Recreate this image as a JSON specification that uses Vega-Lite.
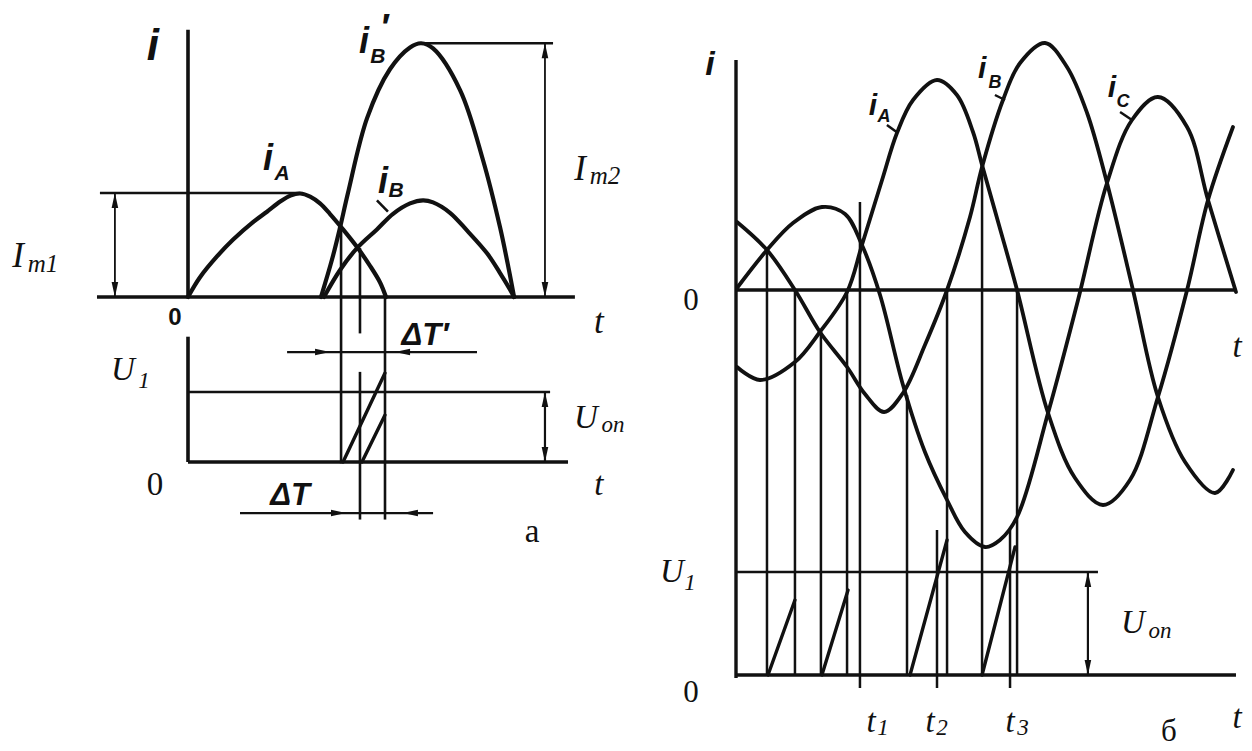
{
  "$schema": "https://vega.github.io/schema/vega-lite/v6.json",
  "width": 1252,
  "height": 751,
  "autosize": {"type": "none"},
  "padding": 0,
  "background": "#ffffff",
  "config": {"view": {"stroke": null}},
  "datasets": {
    "a_curves": [
      {"c": "iA", "t": 0, "i": 0}, {"c": "iA", "t": 0.61, "i": 0.19}, {"c": "iA", "t": 1.47, "i": 0.39},
      {"c": "iA", "t": 2.28, "i": 0.55}, {"c": "iA", "t": 3.3, "i": 0.72}, {"c": "iA", "t": 4.01, "i": 0.82},
      {"c": "iA", "t": 4.7, "i": 0.92}, {"c": "iA", "t": 5.2, "i": 0.975}, {"c": "iA", "t": 5.7, "i": 0.995},
      {"c": "iA", "t": 6.2, "i": 0.965}, {"c": "iA", "t": 6.7, "i": 0.9}, {"c": "iA", "t": 7.2, "i": 0.8},
      {"c": "iA", "t": 7.87, "i": 0.65}, {"c": "iA", "t": 8.58, "i": 0.48}, {"c": "iA", "t": 9.24, "i": 0.3},
      {"c": "iA", "t": 9.75, "i": 0.14}, {"c": "iA", "t": 10.05, "i": 0},
      {"c": "iB'", "t": 6.75, "i": 0}, {"c": "iB'", "t": 7.31, "i": 0.36}, {"c": "iB'", "t": 7.72, "i": 0.67},
      {"c": "iB'", "t": 8.12, "i": 1.0}, {"c": "iB'", "t": 9.09, "i": 1.72},
      {"c": "iB'", "t": 10.25, "i": 2.19}, {"c": "iB'", "t": 11.27, "i": 2.4}, {"c": "iB'", "t": 11.83, "i": 2.44},
      {"c": "iB'", "t": 12.44, "i": 2.39}, {"c": "iB'", "t": 13.81, "i": 1.99}, {"c": "iB'", "t": 14.97, "i": 1.32},
      {"c": "iB'", "t": 15.84, "i": 0.67}, {"c": "iB'", "t": 16.29, "i": 0.26}, {"c": "iB'", "t": 16.55, "i": 0},
      {"c": "iB", "t": 6.9, "i": 0}, {"c": "iB", "t": 7.72, "i": 0.26}, {"c": "iB", "t": 8.58, "i": 0.47},
      {"c": "iB", "t": 9.59, "i": 0.65}, {"c": "iB", "t": 10.41, "i": 0.8}, {"c": "iB", "t": 11.27, "i": 0.9},
      {"c": "iB", "t": 11.93, "i": 0.93}, {"c": "iB", "t": 12.44, "i": 0.91}, {"c": "iB", "t": 13.3, "i": 0.81},
      {"c": "iB", "t": 14.16, "i": 0.64}, {"c": "iB", "t": 15.18, "i": 0.42}, {"c": "iB", "t": 15.84, "i": 0.23},
      {"c": "iB", "t": 16.35, "i": 0.07}, {"c": "iB", "t": 16.55, "i": 0}
    ],
    "a_axes": [
      {"t": 0, "i": 0, "t2": 0, "i2": 2.57},
      {"t": -4.62, "i": 0, "t2": 19.64, "i2": 0}
    ],
    "a_rules": [
      {"t": -4.47, "i": 1, "t2": 5.7, "i2": 1},
      {"t": 11.83, "i": 2.44, "t2": 18.53, "i2": 2.44},
      {"t": 7.77, "i": 0.66, "t2": 7.77, "i2": -1.6},
      {"t": 8.73, "i": 0.47, "t2": 8.73, "i2": -0.35},
      {"t": 8.73, "i": -0.72, "t2": 8.73, "i2": -2.14},
      {"t": 10.0, "i": 0, "t2": 10.0, "i2": -2.14},
      {"t": 9.59, "i": 0.93, "t2": 10.15, "i2": 0.82}
    ],
    "a_arrows": [
      {"t": -3.71, "i": 0, "t2": -3.71, "i2": 1},
      {"t": 18.12, "i": 0, "t2": 18.12, "i2": 2.44}
    ],
    "a_heads": [
      {"t": -3.71, "i": 1, "dir": "up"}, {"t": -3.71, "i": 0, "dir": "down"},
      {"t": 18.12, "i": 2.44, "dir": "up"}, {"t": 18.12, "i": 0, "dir": "down"}
    ],
    "a_lbl_big": [{"t": -1.78, "i": 2.28, "s": "i"}],
    "a_lbl_i": [
      {"t": 4.06, "i": 1.22, "s": "i"},
      {"t": 8.93, "i": 2.35, "s": "i"},
      {"t": 9.95, "i": 2.47, "s": "′"},
      {"t": 9.9, "i": 1.0, "s": "i"}
    ],
    "a_lbl_sub": [
      {"t": 4.77, "i": 1.125, "s": "A"},
      {"t": 9.64, "i": 2.25, "s": "B"},
      {"t": 10.56, "i": 0.96, "s": "B"}
    ],
    "a_lbl_zero": [{"t": -0.66, "i": -0.27, "s": "0"}],
    "a_ser": [
      {"t": -8.63, "i": 0.29, "s": "I"},
      {"t": 19.9, "i": 1.125, "s": "I"},
      {"t": 20.86, "i": -0.346, "s": "t"}
    ],
    "a_ser_sub": [
      {"t": -7.36, "i": 0.24, "s": "m1"},
      {"t": 21.17, "i": 1.087, "s": "m2"}
    ],
    "a2_axes": [
      {"t": 0, "u": 0, "t2": 0, "u2": 1.79},
      {"t": 0, "u": 0, "t2": 19.29, "u2": 0}
    ],
    "a2_rules": [
      {"t": 0, "u": 1, "t2": 18.38, "u2": 1}
    ],
    "a2_arrows": [
      {"t": 18.12, "u": 0, "t2": 18.12, "u2": 1},
      {"t": 5.03, "u": 1.571, "t2": 14.67, "u2": 1.571},
      {"t": 2.64, "u": -0.729, "t2": 12.44, "u2": -0.729}
    ],
    "a2_heads": [
      {"t": 18.12, "u": 1, "dir": "up"}, {"t": 18.12, "u": 0, "dir": "down"},
      {"t": 7.21, "u": 1.571, "dir": "right"}, {"t": 10.51, "u": 1.571, "dir": "left"},
      {"t": 8.02, "u": -0.729, "dir": "right"}, {"t": 10.91, "u": -0.729, "dir": "left"}
    ],
    "a2_ramps": [
      {"r": "r1", "t": 7.87, "u": 0}, {"r": "r1", "t": 10.0, "u": 1.27},
      {"r": "r2", "t": 8.83, "u": 0}, {"r": "r2", "t": 10.0, "u": 0.67}
    ],
    "a2_dt": [
      {"t": 12.03, "u": 1.671, "s": "ΔT′"},
      {"t": 5.18, "u": -0.614, "s": "ΔT"}
    ],
    "a2_ser": [
      {"t": -3.3, "u": 1.171, "s": "U"},
      {"t": 20.86, "u": -0.471, "s": "t"},
      {"t": 20.2, "u": 0.486, "s": "U"}
    ],
    "a2_ser_sub": [
      {"t": -2.23, "u": 1.057, "s": "1"},
      {"t": 21.57, "u": 0.429, "s": "on"}
    ],
    "a2_roman": [
      {"t": -1.68, "u": -0.471, "s": "0"},
      {"t": 17.46, "u": -1.143, "s": "а"}
    ],
    "b_curves": [
      {"c": "iA", "t": 0.06, "i": -0.77}, {"c": "iA", "t": 1.43, "i": -0.9}, {"c": "iA", "t": 3.52, "i": -0.72},
      {"c": "iA", "t": 5.01, "i": -0.42}, {"c": "iA", "t": 6.63, "i": -0.02}, {"c": "iA", "t": 7.52, "i": 0.45},
      {"c": "iA", "t": 8.72, "i": 1.1}, {"c": "iA", "t": 9.61, "i": 1.57}, {"c": "iA", "t": 10.57, "i": 1.9},
      {"c": "iA", "t": 12.0, "i": 2.1}, {"c": "iA", "t": 13.19, "i": 1.95}, {"c": "iA", "t": 14.15, "i": 1.58},
      {"c": "iA", "t": 14.69, "i": 1.25}, {"c": "iA", "t": 15.7, "i": 0.65}, {"c": "iA", "t": 16.78, "i": 0},
      {"c": "iA", "t": 18.63, "i": -1.23},
      {"c": "iA", "t": 20.24, "i": -1.88}, {"c": "iA", "t": 21.91, "i": -2.15}, {"c": "iA", "t": 23.52, "i": -1.9},
      {"c": "iA", "t": 25.19, "i": -1.07}, {"c": "iA", "t": 26.93, "i": 0}, {"c": "iA", "t": 28.18, "i": 0.9},
      {"c": "iA", "t": 29.67, "i": 1.63},
      {"c": "iB", "t": 0.06, "i": 0.68}, {"c": "iB", "t": 1.85, "i": 0.4}, {"c": "iB", "t": 3.52, "i": 0},
      {"c": "iB", "t": 5.01, "i": -0.42}, {"c": "iB", "t": 6.63, "i": -0.77}, {"c": "iB", "t": 7.7, "i": -1.04},
      {"c": "iB", "t": 8.84, "i": -1.22}, {"c": "iB", "t": 9.97, "i": -1.03}, {"c": "iB", "t": 11.28, "i": -0.55},
      {"c": "iB", "t": 12.6, "i": 0}, {"c": "iB", "t": 13.97, "i": 0.73}, {"c": "iB", "t": 14.69, "i": 1.23},
      {"c": "iB", "t": 15.94, "i": 1.9}, {"c": "iB", "t": 16.96, "i": 2.27}, {"c": "iB", "t": 18.45, "i": 2.47},
      {"c": "iB", "t": 19.76, "i": 2.23}, {"c": "iB", "t": 20.96, "i": 1.77}, {"c": "iB", "t": 22.15, "i": 1.07},
      {"c": "iB", "t": 23.7, "i": 0}, {"c": "iB", "t": 25.19, "i": -1.07}, {"c": "iB", "t": 26.81, "i": -1.72},
      {"c": "iB", "t": 28.6, "i": -2.03}, {"c": "iB", "t": 29.67, "i": -1.8},
      {"c": "iC", "t": 0.06, "i": 0.02}, {"c": "iC", "t": 1.85, "i": 0.4}, {"c": "iC", "t": 3.4, "i": 0.67},
      {"c": "iC", "t": 5.13, "i": 0.83}, {"c": "iC", "t": 6.51, "i": 0.76}, {"c": "iC", "t": 7.52, "i": 0.45},
      {"c": "iC", "t": 8.6, "i": -0.05}, {"c": "iC", "t": 9.97, "i": -0.95}, {"c": "iC", "t": 11.28, "i": -1.62},
      {"c": "iC", "t": 12.6, "i": -2.1}, {"c": "iC", "t": 13.67, "i": -2.42}, {"c": "iC", "t": 14.87, "i": -2.57},
      {"c": "iC", "t": 15.76, "i": -2.5}, {"c": "iC", "t": 16.78, "i": -2.27}, {"c": "iC", "t": 18.63, "i": -1.23},
      {"c": "iC", "t": 20.42, "i": -0.1}, {"c": "iC", "t": 22.15, "i": 1.07}, {"c": "iC", "t": 23.64, "i": 1.7},
      {"c": "iC", "t": 25.19, "i": 1.93}, {"c": "iC", "t": 26.93, "i": 1.63}, {"c": "iC", "t": 28.18, "i": 0.9},
      {"c": "iC", "t": 29.85, "i": -0.02}
    ],
    "b_axes": [
      {"t": 0, "i": 2.3, "t2": 0, "i2": -3.88},
      {"t": 0, "i": 0, "t2": 29.85, "i2": 0}
    ],
    "b_rules": [
      {"t": 1.85, "i": 0.4, "t2": 1.85, "i2": -3.85},
      {"t": 3.52, "i": 0, "t2": 3.52, "i2": -3.85},
      {"t": 5.07, "i": -0.42, "t2": 5.07, "i2": -3.85},
      {"t": 6.63, "i": 0, "t2": 6.63, "i2": -3.85},
      {"t": 7.4, "i": 0.88, "t2": 7.4, "i2": -3.98},
      {"t": 10.21, "i": -1.05, "t2": 10.21, "i2": -3.85},
      {"t": 12.0, "i": -2.4, "t2": 12.0, "i2": -3.98},
      {"t": 12.6, "i": 0, "t2": 12.6, "i2": -3.85},
      {"t": 14.69, "i": 1.23, "t2": 14.69, "i2": -3.85},
      {"t": 16.36, "i": -2.4, "t2": 16.36, "i2": -3.98},
      {"t": 16.78, "i": 0, "t2": 16.78, "i2": -3.85},
      {"t": 9.01, "i": 1.65, "t2": 9.67, "i2": 1.57},
      {"t": 15.46, "i": 1.95, "t2": 16.06, "i2": 1.9},
      {"t": 22.93, "i": 1.78, "t2": 23.64, "i2": 1.7}
    ],
    "b_lbl_big": [{"t": -1.55, "i": 2.15, "s": "i"}],
    "b_lbl_i": [
      {"t": 8.18, "i": 1.75, "s": "i"},
      {"t": 14.69, "i": 2.12, "s": "i"},
      {"t": 22.45, "i": 1.93, "s": "i"}
    ],
    "b_lbl_sub": [
      {"t": 8.84, "i": 1.68, "s": "A"},
      {"t": 15.46, "i": 2.02, "s": "B"},
      {"t": 23.1, "i": 1.83, "s": "C"}
    ],
    "b_ser": [{"t": 29.91, "i": -0.67, "s": "t"}],
    "b_roman": [{"t": -2.69, "i": -0.2, "s": "0"}],
    "b2_axes": [
      {"t": 0, "u": 0, "t2": 29.85, "u2": 0}
    ],
    "b2_rules": [
      {"t": 0, "u": 1, "t2": 21.61, "u2": 1}
    ],
    "b2_arrows": [
      {"t": 21.01, "u": 0, "t2": 21.01, "u2": 1}
    ],
    "b2_heads": [
      {"t": 21.01, "u": 1, "dir": "up"}, {"t": 21.01, "u": 0, "dir": "down"}
    ],
    "b2_ramps": [
      {"r": "r1", "t": 1.91, "u": 0}, {"r": "r1", "t": 3.52, "u": 0.728},
      {"r": "r2", "t": 5.13, "u": 0}, {"r": "r2", "t": 6.69, "u": 0.825},
      {"r": "r3", "t": 10.39, "u": 0}, {"r": "r3", "t": 12.6, "u": 1.311},
      {"r": "r4", "t": 14.69, "u": 0}, {"r": "r4", "t": 16.66, "u": 1.243}
    ],
    "b2_ser": [
      {"t": -3.82, "u": 0.903, "s": "U"},
      {"t": 8.06, "u": -0.553, "s": "t"},
      {"t": 11.58, "u": -0.553, "s": "t"},
      {"t": 16.36, "u": -0.553, "s": "t"},
      {"t": 29.91, "u": -0.515, "s": "t"},
      {"t": 23.7, "u": 0.408, "s": "U"}
    ],
    "b2_ser_sub": [
      {"t": -2.75, "u": 0.825, "s": "1"},
      {"t": 8.78, "u": -0.583, "s": "1"},
      {"t": 12.3, "u": -0.583, "s": "2"},
      {"t": 17.13, "u": -0.583, "s": "3"},
      {"t": 25.31, "u": 0.359, "s": "on"}
    ],
    "b2_roman": [
      {"t": -2.69, "u": -0.262, "s": "0"},
      {"t": 25.85, "u": -0.64, "s": "б"}
    ]
  },
  "resolve": {"scale": {"x": "independent", "y": "independent"}},
  "layer": [
    {
      "encoding": {
        "x": {"field": "t", "type": "quantitative", "axis": null, "scale": {"domain": [-9.5431, 54.0102], "nice": false, "zero": false}},
        "y": {"field": "i", "type": "quantitative", "axis": null, "scale": {"domain": [-4.3654, 2.8558], "nice": false, "zero": false}}
      },
      "layer": [
        {"data": {"name": "a_axes"}, "mark": {"type": "rule", "color": "#111", "strokeWidth": 3.6}, "encoding": {"x2": {"field": "t2"}, "y2": {"field": "i2"}}},
        {"data": {"name": "a_rules"}, "mark": {"type": "rule", "color": "#111", "strokeWidth": 2.6}, "encoding": {"x2": {"field": "t2"}, "y2": {"field": "i2"}}},
        {"data": {"name": "a_arrows"}, "mark": {"type": "rule", "color": "#111", "strokeWidth": 1.8}, "encoding": {"x2": {"field": "t2"}, "y2": {"field": "i2"}}},
        {"data": {"name": "a_curves"}, "mark": {"type": "line", "interpolate": "catmull-rom", "color": "#111", "strokeWidth": 4.2, "strokeCap": "round", "strokeJoin": "round"}, "encoding": {"detail": {"field": "c"}}},
        {"data": {"name": "a_heads"}, "mark": {"type": "point", "filled": true, "color": "#111", "opacity": 1, "size": 900, "strokeWidth": 0},
          "encoding": {"shape": {"field": "dir", "type": "nominal", "legend": null, "scale": {"domain": ["up", "down", "left", "right"], "range": ["M0,0L-0.22,1L0.22,1Z", "M0,0L-0.22,-1L0.22,-1Z", "M0,0L1,-0.22L1,0.22Z", "M0,0L-1,-0.22L-1,0.22Z"]}}}},
        {"data": {"name": "a_lbl_big"}, "mark": {"type": "text", "font": "Liberation Sans", "fontStyle": "italic", "fontWeight": "bold", "fontSize": 44, "align": "center", "baseline": "alphabetic", "color": "#111"}, "encoding": {"text": {"field": "s"}}},
        {"data": {"name": "a_lbl_i"}, "mark": {"type": "text", "font": "Liberation Sans", "fontStyle": "italic", "fontWeight": "bold", "fontSize": 36, "align": "center", "baseline": "alphabetic", "color": "#111"}, "encoding": {"text": {"field": "s"}}},
        {"data": {"name": "a_lbl_sub"}, "mark": {"type": "text", "font": "Liberation Sans", "fontStyle": "italic", "fontWeight": "bold", "fontSize": 21, "align": "center", "baseline": "alphabetic", "color": "#111"}, "encoding": {"text": {"field": "s"}}},
        {"data": {"name": "a_lbl_zero"}, "mark": {"type": "text", "font": "Liberation Sans", "fontWeight": "bold", "fontSize": 24, "align": "center", "baseline": "alphabetic", "color": "#111"}, "encoding": {"text": {"field": "s"}}},
        {"data": {"name": "a_ser"}, "mark": {"type": "text", "font": "Liberation Serif", "fontStyle": "italic", "fontSize": 35, "align": "center", "baseline": "alphabetic", "color": "#111"}, "encoding": {"text": {"field": "s"}}},
        {"data": {"name": "a_ser_sub"}, "mark": {"type": "text", "font": "Liberation Serif", "fontStyle": "italic", "fontSize": 25, "align": "center", "baseline": "alphabetic", "color": "#111"}, "encoding": {"text": {"field": "s"}}}
      ]
    },
    {
      "encoding": {
        "x": {"field": "t", "type": "quantitative", "axis": null, "scale": {"domain": [-9.5431, 54.0102], "nice": false, "zero": false}},
        "y": {"field": "u", "type": "quantitative", "axis": null, "scale": {"domain": [-4.1286, 6.6], "nice": false, "zero": false}}
      },
      "layer": [
        {"data": {"name": "a2_axes"}, "mark": {"type": "rule", "color": "#111", "strokeWidth": 3.6}, "encoding": {"x2": {"field": "t2"}, "y2": {"field": "u2"}}},
        {"data": {"name": "a2_rules"}, "mark": {"type": "rule", "color": "#111", "strokeWidth": 2.6}, "encoding": {"x2": {"field": "t2"}, "y2": {"field": "u2"}}},
        {"data": {"name": "a2_arrows"}, "mark": {"type": "rule", "color": "#111", "strokeWidth": 2.2}, "encoding": {"x2": {"field": "t2"}, "y2": {"field": "u2"}}},
        {"data": {"name": "a2_ramps"}, "mark": {"type": "line", "color": "#111", "strokeWidth": 3.4, "strokeCap": "round"}, "encoding": {"detail": {"field": "r"}}},
        {"data": {"name": "a2_heads"}, "mark": {"type": "point", "filled": true, "color": "#111", "opacity": 1, "size": 900, "strokeWidth": 0},
          "encoding": {"shape": {"field": "dir", "type": "nominal", "legend": null, "scale": {"domain": ["up", "down", "left", "right"], "range": ["M0,0L-0.22,1L0.22,1Z", "M0,0L-0.22,-1L0.22,-1Z", "M0,0L1,-0.22L1,0.22Z", "M0,0L-1,-0.22L-1,0.22Z"]}}}},
        {"data": {"name": "a2_dt"}, "mark": {"type": "text", "font": "Liberation Sans", "fontStyle": "italic", "fontWeight": "bold", "fontSize": 31, "align": "center", "baseline": "alphabetic", "color": "#111"}, "encoding": {"text": {"field": "s"}}},
        {"data": {"name": "a2_ser"}, "mark": {"type": "text", "font": "Liberation Serif", "fontStyle": "italic", "fontSize": 33, "align": "center", "baseline": "alphabetic", "color": "#111"}, "encoding": {"text": {"field": "s"}}},
        {"data": {"name": "a2_ser_sub"}, "mark": {"type": "text", "font": "Liberation Serif", "fontStyle": "italic", "fontSize": 23, "align": "center", "baseline": "alphabetic", "color": "#111"}, "encoding": {"text": {"field": "s"}}},
        {"data": {"name": "a2_roman"}, "mark": {"type": "text", "font": "Liberation Serif", "fontSize": 33, "align": "center", "baseline": "alphabetic", "color": "#111"}, "encoding": {"text": {"field": "s"}}}
      ]
    },
    {
      "encoding": {
        "x": {"field": "t", "type": "quantitative", "axis": null, "scale": {"domain": [-43.9403, 30.806], "nice": false, "zero": false}},
        "y": {"field": "i", "type": "quantitative", "axis": null, "scale": {"domain": [-4.61, 2.9], "nice": false, "zero": false}}
      },
      "layer": [
        {"data": {"name": "b_axes"}, "mark": {"type": "rule", "color": "#111", "strokeWidth": 3.4}, "encoding": {"x2": {"field": "t2"}, "y2": {"field": "i2"}}},
        {"data": {"name": "b_rules"}, "mark": {"type": "rule", "color": "#111", "strokeWidth": 2.5}, "encoding": {"x2": {"field": "t2"}, "y2": {"field": "i2"}}},
        {"data": {"name": "b_curves"}, "mark": {"type": "line", "interpolate": "catmull-rom", "color": "#111", "strokeWidth": 3.8, "strokeCap": "round", "strokeJoin": "round"}, "encoding": {"detail": {"field": "c"}}},
        {"data": {"name": "b_lbl_big"}, "mark": {"type": "text", "font": "Liberation Sans", "fontStyle": "italic", "fontWeight": "bold", "fontSize": 34, "align": "center", "baseline": "alphabetic", "color": "#111"}, "encoding": {"text": {"field": "s"}}},
        {"data": {"name": "b_lbl_i"}, "mark": {"type": "text", "font": "Liberation Sans", "fontStyle": "italic", "fontWeight": "bold", "fontSize": 30, "align": "center", "baseline": "alphabetic", "color": "#111"}, "encoding": {"text": {"field": "s"}}},
        {"data": {"name": "b_lbl_sub"}, "mark": {"type": "text", "font": "Liberation Sans", "fontStyle": "italic", "fontWeight": "bold", "fontSize": 18, "align": "center", "baseline": "alphabetic", "color": "#111"}, "encoding": {"text": {"field": "s"}}},
        {"data": {"name": "b_ser"}, "mark": {"type": "text", "font": "Liberation Serif", "fontStyle": "italic", "fontSize": 33, "align": "center", "baseline": "alphabetic", "color": "#111"}, "encoding": {"text": {"field": "s"}}},
        {"data": {"name": "b_roman"}, "mark": {"type": "text", "font": "Liberation Serif", "fontSize": 31, "align": "center", "baseline": "alphabetic", "color": "#111"}, "encoding": {"text": {"field": "s"}}}
      ]
    },
    {
      "encoding": {
        "x": {"field": "t", "type": "quantitative", "axis": null, "scale": {"domain": [-43.9403, 30.806], "nice": false, "zero": false}},
        "y": {"field": "u", "type": "quantitative", "axis": null, "scale": {"domain": [-0.7379, 6.5534], "nice": false, "zero": false}}
      },
      "layer": [
        {"data": {"name": "b2_axes"}, "mark": {"type": "rule", "color": "#111", "strokeWidth": 3.4}, "encoding": {"x2": {"field": "t2"}, "y2": {"field": "u2"}}},
        {"data": {"name": "b2_rules"}, "mark": {"type": "rule", "color": "#111", "strokeWidth": 2.4}, "encoding": {"x2": {"field": "t2"}, "y2": {"field": "u2"}}},
        {"data": {"name": "b2_arrows"}, "mark": {"type": "rule", "color": "#111", "strokeWidth": 2.2}, "encoding": {"x2": {"field": "t2"}, "y2": {"field": "u2"}}},
        {"data": {"name": "b2_ramps"}, "mark": {"type": "line", "color": "#111", "strokeWidth": 3.4, "strokeCap": "round"}, "encoding": {"detail": {"field": "r"}}},
        {"data": {"name": "b2_heads"}, "mark": {"type": "point", "filled": true, "color": "#111", "opacity": 1, "size": 900, "strokeWidth": 0},
          "encoding": {"shape": {"field": "dir", "type": "nominal", "legend": null, "scale": {"domain": ["up", "down", "left", "right"], "range": ["M0,0L-0.22,1L0.22,1Z", "M0,0L-0.22,-1L0.22,-1Z", "M0,0L1,-0.22L1,0.22Z", "M0,0L-1,-0.22L-1,0.22Z"]}}}},
        {"data": {"name": "b2_ser"}, "mark": {"type": "text", "font": "Liberation Serif", "fontStyle": "italic", "fontSize": 33, "align": "center", "baseline": "alphabetic", "color": "#111"}, "encoding": {"text": {"field": "s"}}},
        {"data": {"name": "b2_ser_sub"}, "mark": {"type": "text", "font": "Liberation Serif", "fontStyle": "italic", "fontSize": 23, "align": "center", "baseline": "alphabetic", "color": "#111"}, "encoding": {"text": {"field": "s"}}},
        {"data": {"name": "b2_roman"}, "mark": {"type": "text", "font": "Liberation Serif", "fontSize": 31, "align": "center", "baseline": "alphabetic", "color": "#111"}, "encoding": {"text": {"field": "s"}}}
      ]
    }
  ]
}
